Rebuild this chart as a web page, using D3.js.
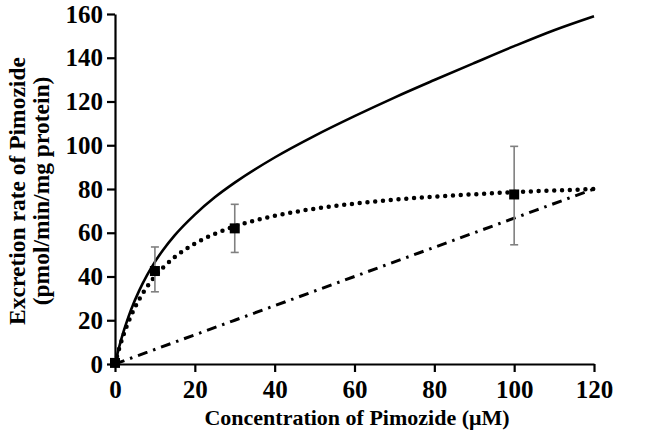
<!DOCTYPE html>
<html><head><meta charset="utf-8">
<script src="https://cdn.jsdelivr.net/npm/d3@7/dist/d3.min.js"></script>
<style>
body{margin:0;background:#fff;}
text{font-family:"Liberation Serif","Times New Roman",serif;font-weight:bold;}
</style></head>
<body><svg id="c" width="666" height="442"></svg>
<script>
// Observed data (mean ± error)
const obsConc = [0, 10, 30, 100];
const obsRate = [0.5, 42.5, 62, 77.5];
const obsLow  = [0.5, 33, 51, 54.5];
const obsHigh = [0.5, 53.5, 73, 99.5];

// Curves
const curveX     = [0, 1, 2, 3, 4, 6, 8, 10, 12, 15, 20, 25, 30, 40, 50, 60, 70, 80, 90, 100, 110, 120];
const totalRate  = [0, 7.5, 14, 19.6, 24.7, 33.3, 40.5, 46.7, 52, 58.9, 68.3, 76.2, 82.9, 94.4, 104.3, 113.3, 121.8, 129.8, 137.6, 145.3, 152.6, 159];
const satRate    = [0, 6.8, 12.6, 17.6, 22, 29.3, 35.2, 40, 44, 48.9, 55, 59.5, 62.9, 67.7, 71, 73.3, 75.1, 76.5, 77.6, 78.6, 79.3, 80];
const linX       = [0, 30, 60, 90, 120];
const linRate    = [0, 20, 40, 60, 80];

const xTicks = [0, 20, 40, 60, 80, 100, 120];
const yTicks = [0, 20, 40, 60, 80, 100, 120, 140, 160];

const svg = d3.select("#c");
const x = d3.scaleLinear().domain([0, 120]).range([115, 594]);
const y = d3.scaleLinear().domain([0, 160]).range([364, 14]);

// axes
const ax = svg.append("g").attr("transform", "translate(0,364)")
  .call(d3.axisBottom(x).tickValues(xTicks).tickSize(8).tickSizeOuter(0).tickPadding(7));
const ay = svg.append("g").attr("transform", "translate(115,0)")
  .call(d3.axisLeft(y).tickValues(yTicks).tickSize(8).tickSizeOuter(0).tickPadding(4));
[ax, ay].forEach(g => {
  g.select(".domain").attr("stroke", "#000").attr("stroke-width", 2.2);
  g.selectAll(".tick line").attr("stroke", "#000").attr("stroke-width", 2.2);
  g.selectAll(".tick text").style("font-family", '"Liberation Serif",serif')
    .style("font-weight", "bold").style("font-size", "25px").attr("fill", "#000");
});
ax.selectAll(".tick text").attr("dy", "0.74em");

// curves
const line = d3.line().x(d => x(d[0])).y(d => y(d[1])).curve(d3.curveMonotoneX);
svg.append("path").datum(curveX.map((v, i) => [v, totalRate[i]]))
  .attr("d", line).attr("fill", "none").attr("stroke", "#000").attr("stroke-width", 2.6);
svg.append("path").datum(curveX.map((v, i) => [v, satRate[i]]))
  .attr("d", line).attr("fill", "none").attr("stroke", "#000").attr("stroke-width", 4.5)
  .attr("stroke-linecap", "round").attr("stroke-dasharray", "0,7.8");
svg.append("path").datum(linX.map((v, i) => [v, linRate[i]]))
  .attr("d", line).attr("fill", "none").attr("stroke", "#000").attr("stroke-width", 3)
  .attr("stroke-dasharray", "10,6,2.5,6");

// error bars
const eb = svg.append("g").attr("stroke", "#808080").attr("stroke-width", 1.6);
obsConc.forEach((c, i) => {
  if (obsHigh[i] - obsLow[i] < 1) return;
  eb.append("line").attr("x1", x(c)).attr("x2", x(c)).attr("y1", y(obsLow[i])).attr("y2", y(obsHigh[i]));
  eb.append("line").attr("x1", x(c) - 4).attr("x2", x(c) + 4).attr("y1", y(obsLow[i])).attr("y2", y(obsLow[i]));
  eb.append("line").attr("x1", x(c) - 4).attr("x2", x(c) + 4).attr("y1", y(obsHigh[i])).attr("y2", y(obsHigh[i]));
});
// markers
svg.append("g").selectAll("rect").data(obsConc).join("rect")
  .attr("x", (d) => x(d) - 5).attr("y", (d, i) => y(obsRate[i]) - 5)
  .attr("width", 10).attr("height", 10).attr("fill", "#000");

// titles
svg.append("text").attr("x", 357).attr("y", 425).attr("text-anchor", "middle").attr("fill", "#000")
  .style("font-size", "22px").text("Concentration of Pimozide (μM)");
svg.append("text").attr("transform", "translate(25,191) rotate(-90)").attr("text-anchor", "middle").attr("fill", "#000")
  .style("font-size", "23.5px").text("Excretion rate of Pimozide");
svg.append("text").attr("transform", "translate(49,191) rotate(-90)").attr("text-anchor", "middle").attr("fill", "#000")
  .style("font-size", "23.5px").text("(pmol/min/mg protein)");
</script></body></html>
